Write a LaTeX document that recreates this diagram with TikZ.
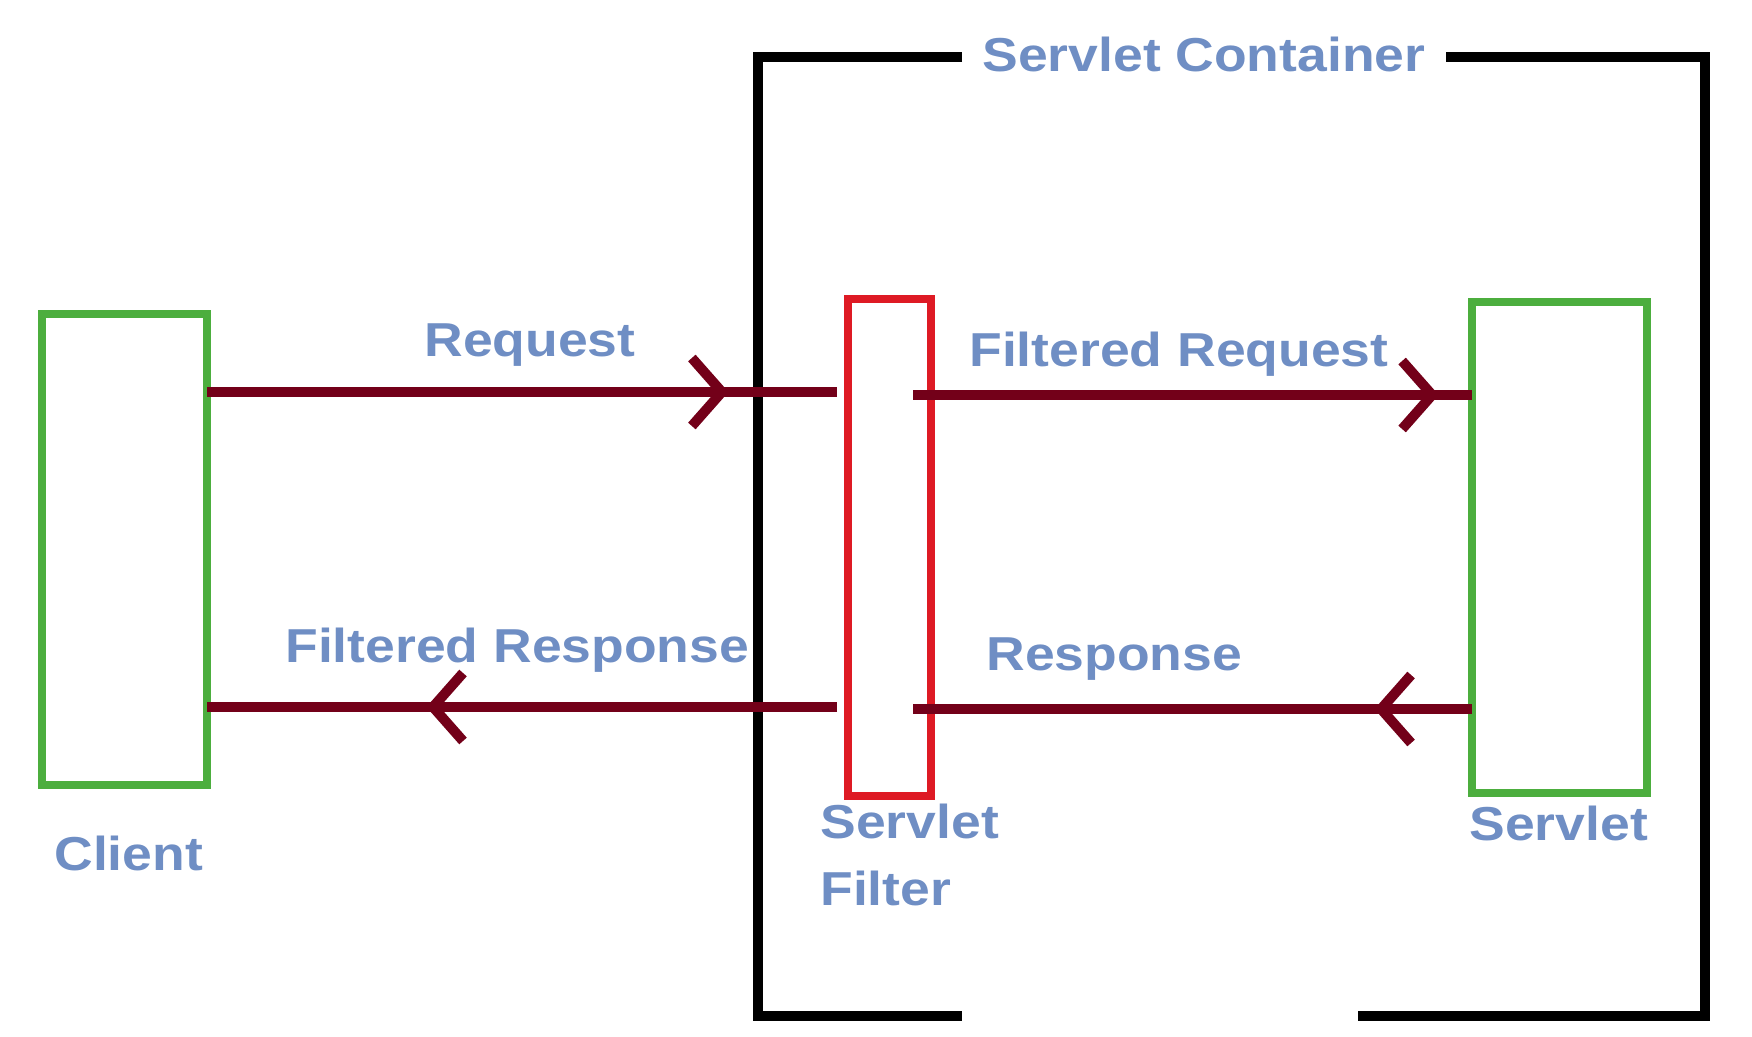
\documentclass[tikz,border=0pt]{standalone}
\usepackage{fontspec}
\setmainfont{Liberation Sans}
\usetikzlibrary{decorations.markings}
\definecolor{txtblue}{RGB}{111,142,196}
\definecolor{maroon}{RGB}{115,0,25}
\definecolor{boxgreen}{RGB}{76,174,62}
\definecolor{boxred}{RGB}{222,26,36}
\tikzset{
  lbl/.style={font=\fontsize{26.75}{32}\selectfont\bfseries, text=txtblue, inner sep=0pt, anchor=base west, yscale=0.89},
  gbox/.style={draw=boxgreen, line width=4.25pt, rectangle, inner sep=0pt, outer sep=0pt},
  rbox/.style={draw=boxred, line width=4.25pt, rectangle, inner sep=0pt, outer sep=0pt},
  frame/.style={draw=black, line width=4.75pt, line join=miter},
  flow/.style={draw=maroon, line width=4.6pt},
  chev/.style={postaction=decorate, decoration={markings, mark=at position #1 with {\draw[maroon, line width=5pt, line cap=butt, line join=miter] (-33,34) -- (-3,0) -- (-33,-34);}}}
}
\begin{document}
\begin{tikzpicture}[x=0.5pt,y=-0.5pt]
\useasboundingbox (0,0) rectangle (1752,1037);
% container frame
\draw[frame] (962,57) -- (758,57) -- (758,1016) -- (962,1016);
\draw[frame] (1446,57) -- (1705,57) -- (1705,1016) -- (1358,1016);
\node[lbl] (title) at (982,72) {Servlet Container};
% boxes
\node[gbox, minimum width=82.5pt, minimum height=235.5pt] (client) at (124.5,549.5) {};
\node[rbox, minimum width=41.5pt, minimum height=248.5pt] (filter) at (889.5,547.5) {};
\node[gbox, minimum width=87.5pt, minimum height=245.5pt] (servlet) at (1559.5,547.5) {};
% free ends
\coordinate (reqend) at (837,392);
\coordinate (freqstart) at (913,395);
\coordinate (respend) at (913,709);
\coordinate (fresstart) at (837,707);
% connectors
\draw[flow, chev=0.822] (client.east |- reqend) -- (reqend);
\draw[flow, chev=0.934] (freqstart) -- (servlet.west |- freqstart);
\draw[flow, chev=0.168] (servlet.west |- respend) -- (respend);
\draw[flow, chev=0.646] (fresstart) -- (client.east |- fresstart);
% labels
\node[lbl] (reqlbl) at (424,357) {Request};
\node[lbl] (freqlbl) at (969,367) {Filtered Request};
\node[lbl] (fresplbl) at (285,662) {Filtered Response};
\node[lbl] (resplbl) at (986,670) {Response};
\node[lbl] (clientlbl) at (54,870) {Client};
\node[lbl] (filterlbla) at (820,838) {Servlet};
\node[lbl] (filterlblb) at (820,905) {Filter};
\node[lbl] (servletlbl) at (1469,840) {Servlet};
\end{tikzpicture}
\end{document}
